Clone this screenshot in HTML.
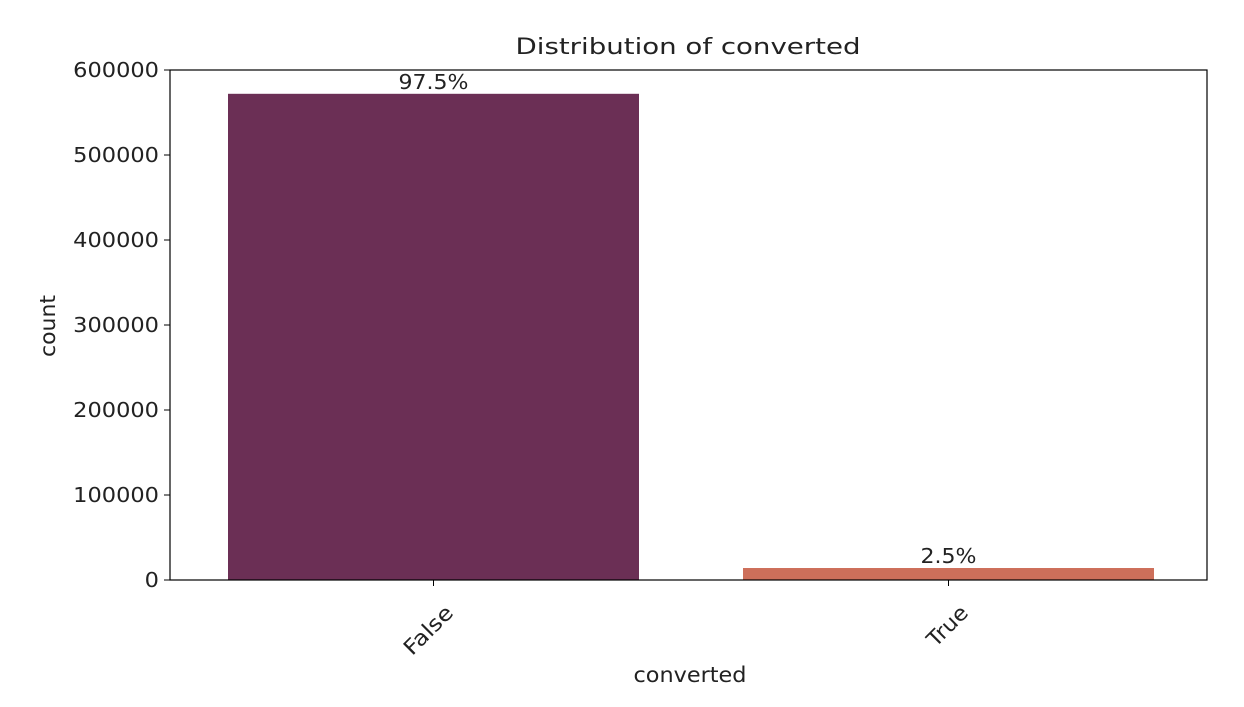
<!DOCTYPE html>
<html><head><meta charset="utf-8"><style>
body{margin:0;background:#fff;}
svg text{font-family:"DejaVu Sans","Liberation Sans",sans-serif;fill:#222;}
</style></head><body>
<svg id="chart" width="1244" height="702" xmlns="http://www.w3.org/2000/svg">
<text x="688" y="54" font-size="22" text-anchor="middle" textLength="345" lengthAdjust="spacingAndGlyphs">Distribution of converted</text>
<g id="bars"></g>
<g id="yticks"></g>
<g id="xticks"></g>
<rect x="170" y="70" width="1037" height="510" fill="none" stroke="#000" stroke-width="1.2"/>
<text transform="translate(55,326) rotate(-90)" font-size="21" text-anchor="middle" textLength="62" lengthAdjust="spacingAndGlyphs">count</text>
<text x="690" y="682" font-size="21" text-anchor="middle" textLength="113" lengthAdjust="spacingAndGlyphs">converted</text>
</svg>
<script>
const categories=["False","True"];
const counts=[572000,14100];
const pctLabels=["97.5%","2.5%"];
const colors=["#6b2f55","#cd6f5a"];
const yTicks=[0,100000,200000,300000,400000,500000,600000];
const L=170,R=1207,T=70,B=580,yMax=600000;
const ns="http://www.w3.org/2000/svg";
const y=v=>B-(v/yMax)*(B-T);
const band=515;
const x=i=>433.5+band*i;
const bw=411;
function mk(tag,attrs,parent){const e=document.createElementNS(ns,tag);for(const k in attrs)e.setAttribute(k,attrs[k]);parent.appendChild(e);return e;}
const gb=document.getElementById('bars'),gy=document.getElementById('yticks'),gx=document.getElementById('xticks');
categories.forEach((c,i)=>{
  const r=mk('rect',{x:x(i)-bw/2,y:y(counts[i]),width:bw,height:B-y(counts[i]),fill:colors[i]},gb);
  
  
  const lab=pctLabels[i];
  const t=mk('text',{x:x(i),y:y(counts[i])-5,'font-size':20,'text-anchor':'middle',textLength:lab.length*14,lengthAdjust:'spacingAndGlyphs'},gb);
  t.textContent=lab;
  
  
  const tk=mk('line',{x1:x(i),x2:x(i),y1:B,y2:B+6,stroke:'#000'},gx);
  
  
  const xl=mk('text',{transform:`translate(${x(i)+21},${B+34}) rotate(-45)`,'font-size':21,'text-anchor':'end',textLength:c.length*12,lengthAdjust:'spacingAndGlyphs'},gx);
  xl.textContent=c;
  
  
});
yTicks.forEach(v=>{
  const tk=mk('line',{x1:L-6,x2:L,y1:y(v),y2:y(v),stroke:'#000'},gy);
  
  
  const s=String(v);
  const t=mk('text',{x:L-11,y:y(v)+7,'font-size':20,'text-anchor':'end',textLength:s.length*14.3,lengthAdjust:'spacingAndGlyphs'},gy);
  t.textContent=s;
  
  
});
</script>
</body></html>
